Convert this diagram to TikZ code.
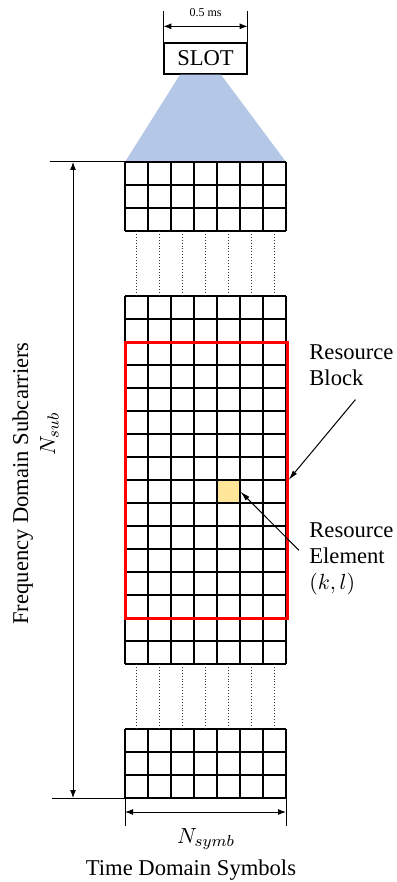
\documentclass[tikz,border=0pt]{standalone}
\usepackage{fontspec}
\setmainfont{Liberation Serif}
\usetikzlibrary{arrows.meta, positioning, calc}
\definecolor{slotblue}{HTML}{B4C7E7}
\definecolor{rbred}{HTML}{FF0000}
\definecolor{reyellow}{HTML}{FFE699}

% block of symbol/subcarrier cells: #1 = top edge, #2 = rows
\newcommand{\symgrid}[2]{%
    \foreach \c in {0,...,7}
        \draw[gridline] (125+23*\c, #1) -- (125+23*\c, #1+23*#2);
    \foreach \r in {0,...,#2}
        \draw[gridline] (125, #1+23*\r) -- (286, #1+23*\r);
}

\begin{document}
\begin{tikzpicture}[
    x=0.5pt, y=-0.5pt,
    font=\fontsize{11.3}{13}\selectfont,
    gridline/.style={black, line width=0.65pt},
    gapline/.style={black!80, densely dotted, line width=0.45pt},
    dimline/.style={black, line width=0.5pt},
    dimarr/.style={
        {Latex[length=4pt, width=3pt]}-{Latex[length=4pt, width=3pt]},
        black, line width=0.5pt,
    },
    ptr/.style={
        -{Latex[length=5pt, width=2.6pt]},
        black, line width=0.5pt,
    },
    sidetext/.style={align=left, inner sep=0pt, anchor=base west},
]
\useasboundingbox (0,0) rectangle (396,882);

% -- grid corners --
\coordinate (gtop) at (125,162);
\coordinate (gtopR) at (286,162);
\coordinate (gbot) at (125,798);
\coordinate (gbotR) at (286,798);

% -- Slot and its span --
\node[draw, line width=0.65pt, minimum width=41.5pt, minimum height=15.5pt,
      inner sep=0pt] (slot) at (205.5,58.5) {SLOT};
\fill[slotblue] ([xshift=-12.75pt]slot.south) -- ([xshift=7.75pt]slot.south)
    -- (gtopR) -- (gtop) -- cycle;

\draw[dimline] (slot.north west) -- ++(0,-31);
\draw[dimline] (slot.north east) -- ++(0,-31);
\draw[dimarr] ($(slot.north west)+(0,-16)$) -- ($(slot.north east)+(0,-16)$);
\node[font=\fontsize{6}{7}\selectfont, anchor=base] (slotlen) at (205.5,17) {0.5 ms};

% -- Resource element (drawn under the grid lines) --
\node[fill=reyellow, minimum size=11.5pt, inner sep=0pt] (re) at (228.5,491.5) {};

% -- Grids --
\symgrid{162}{3}
\symgrid{296}{16}
\symgrid{729}{3}

% -- skipped rows --
\foreach \c in {0,...,6} {
    \draw[gapline] (136.5+23*\c, 231) -- (136.5+23*\c, 296);
    \draw[gapline] (136.5+23*\c, 664) -- (136.5+23*\c, 729);
}

% -- Resource block --
\node[draw=rbred, line width=1.5pt, minimum width=81pt, minimum height=138pt,
      inner sep=0pt] (rb) at (206,480) {};

% -- Labels and pointers (base = last line) --
\node[sidetext] (rbl) at (309,385) {Resource\\Block};
\node[sidetext] (rel) at (309,589) {Resource\\Element\\$(k,l)$};

\draw[ptr] ([xshift=2pt, yshift=-7pt]rbl.south) -- (rb.east);
\draw[ptr] ([xshift=-5pt, yshift=4pt]rel.west) -- (re.east);

% -- Frequency axis --
\draw[dimline] (gtop) -- ++(-75,0);
\draw[dimline] (gbot) -- ++(-73,0);
\draw[dimarr] ($(gtop)+(-52,0)$) -- ($(gbot)+(-52,0)$);
\node[rotate=90, anchor=base] (freqlabel) at (28,483.5) {Frequency Domain Subcarriers};
\node[rotate=90, anchor=base] (nsub) at (55,434) {$N_{sub}$};

% -- Time axis --
\draw[dimline] (gbot) -- ++(0,28);
\draw[dimline] (gbotR) -- ++(0,28);
\draw[dimarr] ($(gbot)+(0,14)$) -- ($(gbotR)+(0,14)$);
\node[anchor=base] (nsymb) at (206,843) {$N_{symb}$};
\node[anchor=base] (timelabel) at (191,875) {Time Domain Symbols};

\end{tikzpicture}
\end{document}
